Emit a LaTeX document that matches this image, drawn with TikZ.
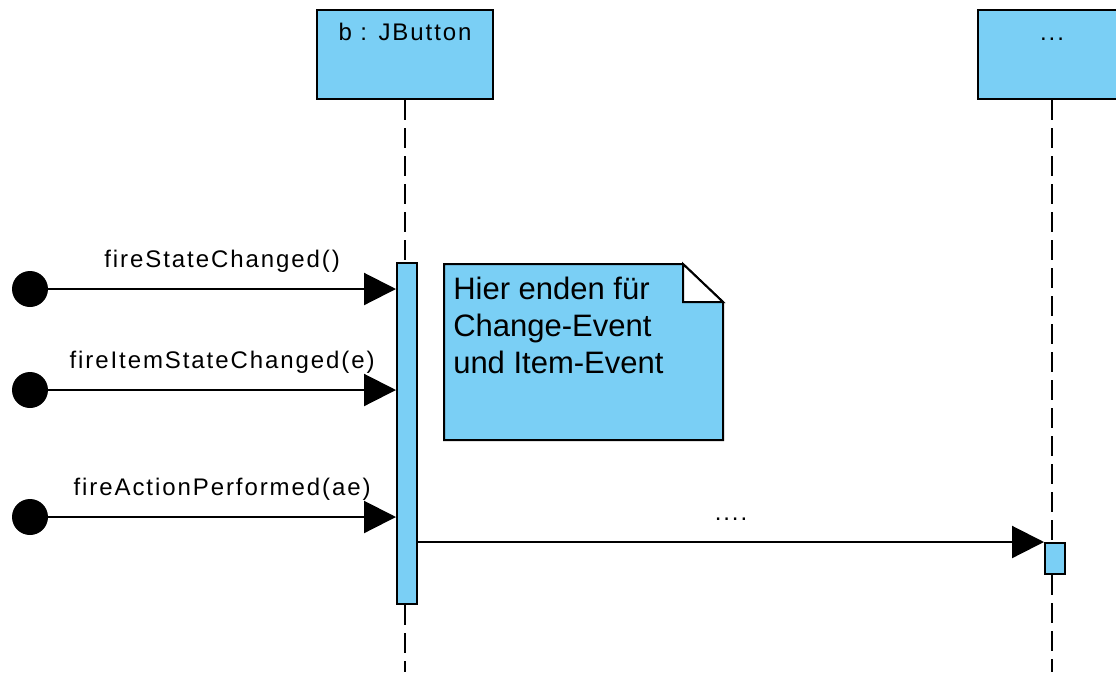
\documentclass[tikz,border=0pt]{standalone}
\usepackage{fontspec}
\setmainfont{Liberation Sans}
\newfontfamily\msgfont{Liberation Sans}[LetterSpace=8]
\usepackage{tikz}
\usetikzlibrary{positioning, calc, arrows.meta}
\usepackage{xcolor}
\definecolor{xblue}{HTML}{7ACFF5}
\tikzset{
	head/.style={draw, line width=1.5pt, fill=xblue, inner xsep=0pt, inner ysep=0pt,
		text height=22.5pt, text depth=44.25pt, font=\msgfont\fontsize{18}{21}\selectfont},
	bar/.style={draw, line width=1.5pt, fill=xblue, inner sep=0pt, minimum width=15pt},
	lifeline/.style={line width=1.2pt, dash pattern=on 15pt off 6pt},
	dot/.style={circle, fill=black, inner sep=0pt, minimum size=27pt},
	msg/.style={line width=1.6pt, -{Triangle[length=24pt, width=24pt]}},
	msglabel/.style={midway, anchor=base, yshift=16.5pt, inner sep=0pt, font=\msgfont\fontsize{18}{21}\selectfont},
}

\begin{document}
\begin{tikzpicture}[x=0.75pt, y=-0.75pt]
	\useasboundingbox (0,0) rectangle (1116,672);
	\clip (0,0) rectangle (1116,672);
	\coordinate (bottom) at (0,672);

% Lifelines
	\node[head, minimum width=132pt, anchor=north] (jb) at (405,9) {b : JButton};
	\node[head, minimum width=111pt, anchor=north] (other) at (1052,9) {...};

	\node[bar, minimum height=255.75pt] (act1) at (407,433.5) {};
	\node[bar, minimum height=23.25pt] (act2) at (1055,558.5) {};

	\draw[lifeline] (jb.south) -- (jb.south |- act1.north);
	\draw[lifeline] (jb.south |- act1.south) -- (jb.south |- bottom);
	\draw[lifeline] (other.south) -- (other.south |- act2.north);
	\draw[lifeline] (other.south |- act2.south) -- (other.south |- bottom);

% Found messages
	\node[dot] (s1) at (30,289) {};
	\node[dot] (s2) at (30,390) {};
	\node[dot] (s3) at (30,517) {};

	\draw[msg] (s1) -- (s1 -| act1.west) node[msglabel] {fireStateChanged()};
	\draw[msg] (s2) -- (s2 -| act1.west) node[msglabel] {fireItemStateChanged(e)};
	\draw[msg] (s3) -- (s3 -| act1.west) node[msglabel] {fireActionPerformed(ae)};

	\draw[msg] (act1.east |- act2.north west) -- (act2.north west) node[msglabel] {....};

% Note
	\filldraw[fill=xblue, line width=1.5pt] (444,264) -- (683,264) -- (723,302) -- (723,440) -- (444,440) -- cycle;
	\filldraw[fill=white, line width=1.5pt] (683,264) -- (683,302) -- (723,302) -- cycle;
	\node[anchor=north west, align=left, inner sep=0pt, font=\fontsize{23.25}{27.75}\selectfont] (note) at (453,277)
		{Hier enden für\\Change-Event\\und Item-Event};
\end{tikzpicture}
\end{document}
